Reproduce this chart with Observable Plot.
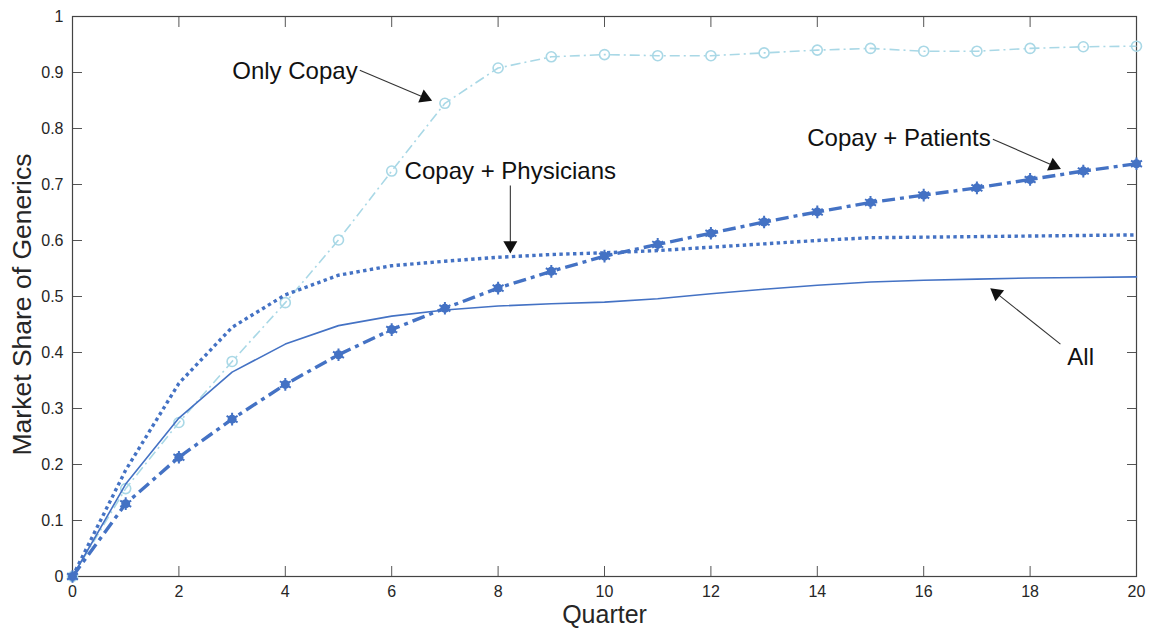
<!DOCTYPE html>
<html>
<head>
<meta charset="utf-8">
<script src="https://cdn.jsdelivr.net/npm/d3@7"></script>
<script src="https://cdn.jsdelivr.net/npm/@observablehq/plot@0.6"></script>
<style>
  html, body { margin: 0; padding: 0; background: #fff; }
  #chart svg { display: block; }
</style>
</head>
<body>
<div id="chart"></div>
<script>
const quarters = d3.range(0, 21);
const onlyCopay = [0, 0.157, 0.275, 0.384, 0.489, 0.601, 0.724, 0.845, 0.908, 0.928, 0.932, 0.930, 0.930, 0.935, 0.940, 0.943, 0.938, 0.938, 0.943, 0.946, 0.947];
const copayPatients = [0, 0.130, 0.213, 0.281, 0.343, 0.396, 0.441, 0.479, 0.515, 0.545, 0.572, 0.593, 0.613, 0.633, 0.651, 0.668, 0.681, 0.694, 0.709, 0.724, 0.737];
const copayPhysicians = [0, 0.19, 0.345, 0.445, 0.503, 0.538, 0.555, 0.563, 0.570, 0.575, 0.578, 0.582, 0.588, 0.594, 0.600, 0.605, 0.606, 0.607, 0.608, 0.609, 0.610];
const allPolicies = [0, 0.165, 0.283, 0.365, 0.415, 0.448, 0.465, 0.476, 0.483, 0.487, 0.490, 0.496, 0.505, 0.513, 0.520, 0.526, 0.529, 0.531, 0.533, 0.534, 0.535];

const xTicks = [0, 2, 4, 6, 8, 10, 12, 14, 16, 18, 20];
const yTicks = [0, 0.1, 0.2, 0.3, 0.4, 0.5, 0.6, 0.7, 0.8, 0.9, 1];

// annotations: label position and arrow (data units)
const labels = [
  {text: "Only Copay", x: 5.36, y: 0.903, anchor: "end"},
  {text: "Copay + Physicians", x: 8.23, y: 0.723, anchor: "middle"},
  {text: "Copay + Patients", x: 17.26, y: 0.783, anchor: "end"},
  {text: "All", x: 18.95, y: 0.392, anchor: "middle"}
];
const arrows = [
  {x1: 5.40, y1: 0.904, x2: 6.75, y2: 0.850},
  {x1: 8.23, y1: 0.698, x2: 8.23, y2: 0.578},
  {x1: 17.30, y1: 0.781, x2: 18.57, y2: 0.728},
  {x1: 18.57, y1: 0.415, x2: 17.26, y2: 0.514}
];

const W = 1149, H = 633, ML = 72, MR = 13, MT = 16, MB = 57;
const xDomain = [0, 20], yDomain = [0, 1];
const kx = (W - ML - MR) / (xDomain[1] - xDomain[0]);
const ky = (H - MT - MB) / (yDomain[1] - yDomain[0]);

// filled arrow heads: orientation derived from the arrows' direction in screen space
const heads = arrows.map(a => {
  const dx = (a.x2 - a.x1) * kx, dy = -(a.y2 - a.y1) * ky;
  const len = Math.hypot(dx, dy), ux = dx / len, uy = dy / len;
  const back = 7.5;
  return {
    x: a.x2 - ux * back / kx,
    y: a.y2 + uy * back / ky,
    angle: Math.atan2(dx, -dy) * 180 / Math.PI
  };
});
const shafts = arrows.map(a => {
  const dx = (a.x2 - a.x1) * kx, dy = -(a.y2 - a.y1) * ky;
  const len = Math.hypot(dx, dy), ux = dx / len, uy = dy / len;
  return {x1: a.x1, y1: a.y1, x2: a.x2 - ux * 8 / kx, y2: a.y2 + uy * 8 / ky};
});

const toRows = (vals) => quarters.map((q, i) => ({q, v: vals[i]}));
const blue = "#4472C4";
const light = "#A9D8E6";
const fmt = d => String(+d.toFixed(1));

const chart = Plot.plot({
  width: W,
  height: H,
  marginLeft: ML,
  marginRight: MR,
  marginTop: MT,
  marginBottom: MB,
  style: {fontFamily: "'Liberation Sans', Arial, sans-serif", fontSize: "16px", color: "#262626", background: "#fff"},
  x: {domain: xDomain},
  y: {domain: yDomain},
  marks: [
    Plot.axisX(xTicks, {anchor: "bottom", tickSize: -10, tickPadding: 19, label: null, stroke: "#555", tickFormat: fmt}),
    Plot.axisX(xTicks, {anchor: "top", tickSize: -10, label: null, stroke: "#555", tickFormat: () => ""}),
    Plot.axisY(yTicks, {anchor: "left", tickSize: -10, tickPadding: 19, label: null, stroke: "#555", tickFormat: fmt}),
    Plot.axisY(yTicks, {anchor: "right", tickSize: -10, label: null, stroke: "#555", tickFormat: () => ""}),
    Plot.frame({stroke: "#444", strokeWidth: 1.2}),
    Plot.line(toRows(onlyCopay), {x: "q", y: "v", stroke: light, strokeWidth: 1.6, strokeDasharray: "10,4,2,4", strokeLinecap: "butt"}),
    Plot.dot(toRows(onlyCopay), {x: "q", y: "v", stroke: light, fill: "white", fillOpacity: 0, r: 5, strokeWidth: 1.6}),
    Plot.line(toRows(allPolicies), {x: "q", y: "v", stroke: blue, strokeWidth: 1.6}),
    Plot.line(toRows(copayPhysicians), {x: "q", y: "v", stroke: blue, strokeWidth: 3.4, strokeDasharray: "3.4,3.4", strokeLinecap: "butt"}),
    Plot.line(toRows(copayPatients), {x: "q", y: "v", stroke: blue, strokeWidth: 3.4, strokeDasharray: "13,5,4,5", strokeLinecap: "butt"}),
    Plot.dot(toRows(copayPatients), {x: "q", y: "v", fill: blue, r: 4.5}),
    Plot.dot(toRows(copayPatients), {x: "q", y: "v", stroke: blue, symbol: "asterisk", r: 6, strokeWidth: 2}),
    Plot.link(shafts, {x1: "x1", y1: "y1", x2: "x2", y2: "y2", stroke: "#333", strokeWidth: 1.1}),
    Plot.dot(heads, {x: "x", y: "y", symbol: "triangle", rotate: "angle", r: 5.2, fill: "#111", stroke: "none"}),
    Plot.text(labels.filter(d => d.anchor === "end"), {x: "x", y: "y", text: "text", textAnchor: "end", fontSize: 24, fill: "#111"}),
    Plot.text(labels.filter(d => d.anchor === "middle"), {x: "x", y: "y", text: "text", textAnchor: "middle", fontSize: 24, fill: "#111"}),
    Plot.text(["Quarter"], {frameAnchor: "bottom", dy: 46, fontSize: 25, fill: "#262626"}),
    Plot.text(["Market Share of Generics"], {frameAnchor: "left", textAnchor: "middle", rotate: -90, dx: -50, dy: 8, fontSize: 26.5, fill: "#262626"})
  ]
});
document.getElementById("chart").appendChild(chart);
</script>
</body>
</html>
